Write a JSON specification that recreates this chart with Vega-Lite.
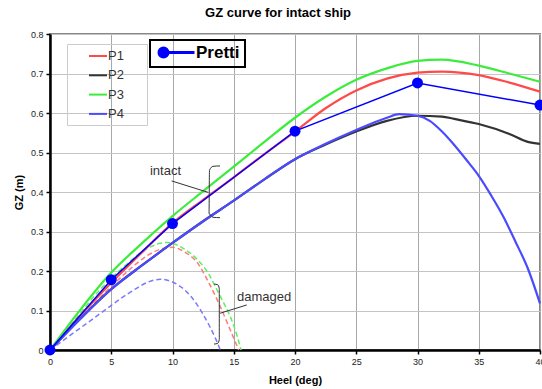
{
  "$schema": "https://vega.github.io/schema/vega-lite/v6.json",
  "width": 490,
  "height": 316,
  "autosize": {"type": "none"},
  "padding": {"left": 50, "top": 34, "right": 2, "bottom": 39},
  "background": "white",
  "title": {"text": "GZ curve for intact ship", "fontSize": 13, "fontWeight": "bold", "font": "Liberation Sans", "color": "#000000", "dx": -17, "offset": 10},
  "config": {
    "font": "Liberation Sans",
    "view": {"stroke": "#888888", "strokeWidth": 2},
    "axis": {
      "domainColor": "#000000", "domainWidth": 2.5,
      "tickColor": "#000000", "tickSize": 4, "tickWidth": 1.5,
      "labelFontSize": 9, "labelColor": "#222222", "labelPadding": 3,
      "labelFlush": false, "labelOverlap": false, "labelBound": false,
      "titleFontSize": 11, "titleFontWeight": "bold", "titleColor": "#000000",
      "grid": true, "gridWidth": 1
    }
  },
  "datasets": {
    "intact": [
      {"series": "P1", "heel": 0, "gz": 0}, {"series": "P1", "heel": 2.5, "gz": 0.088}, {"series": "P1", "heel": 5, "gz": 0.17}, {"series": "P1", "heel": 7.5, "gz": 0.247}, {"series": "P1", "heel": 10, "gz": 0.321}, {"series": "P1", "heel": 12.5, "gz": 0.38}, {"series": "P1", "heel": 15, "gz": 0.437}, {"series": "P1", "heel": 17.5, "gz": 0.496}, {"series": "P1", "heel": 20, "gz": 0.553}, {"series": "P1", "heel": 22.5, "gz": 0.612}, {"series": "P1", "heel": 25, "gz": 0.657}, {"series": "P1", "heel": 27.5, "gz": 0.687}, {"series": "P1", "heel": 30, "gz": 0.702}, {"series": "P1", "heel": 32, "gz": 0.705}, {"series": "P1", "heel": 35, "gz": 0.696}, {"series": "P1", "heel": 37.5, "gz": 0.677}, {"series": "P1", "heel": 40, "gz": 0.654},
      {"series": "P2", "heel": 0, "gz": 0}, {"series": "P2", "heel": 2.5, "gz": 0.08}, {"series": "P2", "heel": 5, "gz": 0.154}, {"series": "P2", "heel": 7.5, "gz": 0.214}, {"series": "P2", "heel": 10, "gz": 0.271}, {"series": "P2", "heel": 12.5, "gz": 0.326}, {"series": "P2", "heel": 15, "gz": 0.378}, {"series": "P2", "heel": 17.5, "gz": 0.432}, {"series": "P2", "heel": 20, "gz": 0.483}, {"series": "P2", "heel": 22.5, "gz": 0.52}, {"series": "P2", "heel": 25, "gz": 0.553}, {"series": "P2", "heel": 27.5, "gz": 0.58}, {"series": "P2", "heel": 30, "gz": 0.593}, {"series": "P2", "heel": 32, "gz": 0.591}, {"series": "P2", "heel": 33, "gz": 0.585}, {"series": "P2", "heel": 35, "gz": 0.572}, {"series": "P2", "heel": 37.5, "gz": 0.547}, {"series": "P2", "heel": 39, "gz": 0.527}, {"series": "P2", "heel": 40, "gz": 0.522},
      {"series": "P3", "heel": 0, "gz": 0}, {"series": "P3", "heel": 2.5, "gz": 0.103}, {"series": "P3", "heel": 5, "gz": 0.196}, {"series": "P3", "heel": 7.5, "gz": 0.27}, {"series": "P3", "heel": 10, "gz": 0.339}, {"series": "P3", "heel": 12.5, "gz": 0.402}, {"series": "P3", "heel": 15, "gz": 0.464}, {"series": "P3", "heel": 17.5, "gz": 0.527}, {"series": "P3", "heel": 20, "gz": 0.588}, {"series": "P3", "heel": 22.5, "gz": 0.641}, {"series": "P3", "heel": 25, "gz": 0.684}, {"series": "P3", "heel": 27.5, "gz": 0.713}, {"series": "P3", "heel": 30, "gz": 0.732}, {"series": "P3", "heel": 32, "gz": 0.735}, {"series": "P3", "heel": 35, "gz": 0.72}, {"series": "P3", "heel": 37.5, "gz": 0.7}, {"series": "P3", "heel": 40, "gz": 0.679},
      {"series": "P4", "heel": 0, "gz": 0}, {"series": "P4", "heel": 2.5, "gz": 0.08}, {"series": "P4", "heel": 5, "gz": 0.154}, {"series": "P4", "heel": 7.5, "gz": 0.214}, {"series": "P4", "heel": 10, "gz": 0.271}, {"series": "P4", "heel": 12.5, "gz": 0.326}, {"series": "P4", "heel": 15, "gz": 0.378}, {"series": "P4", "heel": 17.5, "gz": 0.432}, {"series": "P4", "heel": 20, "gz": 0.483}, {"series": "P4", "heel": 22.5, "gz": 0.522}, {"series": "P4", "heel": 25, "gz": 0.557}, {"series": "P4", "heel": 27.5, "gz": 0.588}, {"series": "P4", "heel": 28.5, "gz": 0.597}, {"series": "P4", "heel": 30, "gz": 0.593}, {"series": "P4", "heel": 31, "gz": 0.58}, {"series": "P4", "heel": 32, "gz": 0.553}, {"series": "P4", "heel": 33, "gz": 0.519}, {"series": "P4", "heel": 34, "gz": 0.481}, {"series": "P4", "heel": 35, "gz": 0.441}, {"series": "P4", "heel": 36, "gz": 0.392}, {"series": "P4", "heel": 37, "gz": 0.338}, {"series": "P4", "heel": 38, "gz": 0.274}, {"series": "P4", "heel": 39, "gz": 0.207}, {"series": "P4", "heel": 40, "gz": 0.118}
    ],
    "damaged": [
      {"series": "P1", "heel": 0, "gz": 0}, {"series": "P1", "heel": 2, "gz": 0.065}, {"series": "P1", "heel": 4, "gz": 0.13}, {"series": "P1", "heel": 6, "gz": 0.19}, {"series": "P1", "heel": 8, "gz": 0.24}, {"series": "P1", "heel": 9, "gz": 0.255}, {"series": "P1", "heel": 10, "gz": 0.26}, {"series": "P1", "heel": 11, "gz": 0.248}, {"series": "P1", "heel": 12, "gz": 0.222}, {"series": "P1", "heel": 13, "gz": 0.168}, {"series": "P1", "heel": 14, "gz": 0.103}, {"series": "P1", "heel": 14.6, "gz": 0.059}, {"series": "P1", "heel": 15, "gz": 0.03}, {"series": "P1", "heel": 15.4, "gz": 0},
      {"series": "P3", "heel": 0, "gz": 0}, {"series": "P3", "heel": 2, "gz": 0.075}, {"series": "P3", "heel": 4, "gz": 0.15}, {"series": "P3", "heel": 6, "gz": 0.21}, {"series": "P3", "heel": 8, "gz": 0.258}, {"series": "P3", "heel": 9, "gz": 0.27}, {"series": "P3", "heel": 9.5, "gz": 0.272}, {"series": "P3", "heel": 10, "gz": 0.27}, {"series": "P3", "heel": 11, "gz": 0.255}, {"series": "P3", "heel": 12, "gz": 0.23}, {"series": "P3", "heel": 13, "gz": 0.19}, {"series": "P3", "heel": 13.5, "gz": 0.16}, {"series": "P3", "heel": 14, "gz": 0.13}, {"series": "P3", "heel": 14.6, "gz": 0.093}, {"series": "P3", "heel": 15, "gz": 0.062}, {"series": "P3", "heel": 15.6, "gz": 0},
      {"series": "P4", "heel": 0, "gz": 0}, {"series": "P4", "heel": 2, "gz": 0.045}, {"series": "P4", "heel": 4, "gz": 0.09}, {"series": "P4", "heel": 6, "gz": 0.135}, {"series": "P4", "heel": 7, "gz": 0.155}, {"series": "P4", "heel": 8, "gz": 0.172}, {"series": "P4", "heel": 9, "gz": 0.179}, {"series": "P4", "heel": 10, "gz": 0.172}, {"series": "P4", "heel": 11, "gz": 0.152}, {"series": "P4", "heel": 12, "gz": 0.115}, {"series": "P4", "heel": 12.5, "gz": 0.09}, {"series": "P4", "heel": 13, "gz": 0.062}, {"series": "P4", "heel": 13.5, "gz": 0.03}, {"series": "P4", "heel": 13.9, "gz": 0}
    ],
    "pretti": [
      {"name": "Pretti", "heel": 0, "gz": 0}, {"name": "Pretti", "heel": 5, "gz": 0.178}, {"name": "Pretti", "heel": 10, "gz": 0.32}, {"name": "Pretti", "heel": 20, "gz": 0.554}, {"name": "Pretti", "heel": 30, "gz": 0.676}, {"name": "Pretti", "heel": 40, "gz": 0.62}
    ],
    "guides": [
      {"id": "intact leader", "i": 0, "heel": 9.93, "gz": 0.428}, {"id": "intact leader", "i": 1, "heel": 12.92, "gz": 0.399},
      {"id": "intact brace", "i": 0, "heel": 13.88, "gz": 0.466}, {"id": "intact brace", "i": 1, "heel": 13.3, "gz": 0.465}, {"id": "intact brace", "i": 2, "heel": 13.02, "gz": 0.455}, {"id": "intact brace", "i": 3, "heel": 12.98, "gz": 0.345}, {"id": "intact brace", "i": 4, "heel": 13.3, "gz": 0.336}, {"id": "intact brace", "i": 5, "heel": 13.88, "gz": 0.335},
      {"id": "damaged leader", "i": 0, "heel": 13.88, "gz": 0.093}, {"id": "damaged leader", "i": 1, "heel": 16.06, "gz": 0.114},
      {"id": "damaged brace", "i": 0, "heel": 13.39, "gz": 0.167}, {"id": "damaged brace", "i": 1, "heel": 13.7, "gz": 0.165}, {"id": "damaged brace", "i": 2, "heel": 13.82, "gz": 0.155}, {"id": "damaged brace", "i": 3, "heel": 13.82, "gz": 0.027}, {"id": "damaged brace", "i": 4, "heel": 13.7, "gz": 0.017}, {"id": "damaged brace", "i": 5, "heel": 13.39, "gz": 0.015}
    ],
    "notes": [
      {"label": "intact", "heel": 8.16, "gz": 0.453},
      {"label": "damaged", "heel": 15.27, "gz": 0.134}
    ]
  },
  "encoding": {
    "x": {"field": "heel", "type": "quantitative", "scale": {"domain": [0, 40], "nice": false},
      "axis": {"values": [0, 5, 10, 15, 20, 25, 30, 35, 40], "title": "Heel (deg)", "titlePadding": 8, "gridColor": "#a8a8a8"}},
    "y": {"field": "gz", "type": "quantitative", "scale": {"domain": [0, 0.8], "nice": false},
      "axis": {"values": [0, 0.1, 0.2, 0.3, 0.4, 0.5, 0.6, 0.7, 0.8], "labelExpr": "datum.value == 0 ? '0' : format(datum.value, '.1f')", "title": "GZ (m)", "titlePadding": 6, "gridColor": "#c4c4c4"}}
  },
  "layer": [
    {
      "layer": [
        {
          "data": {"name": "damaged"},
          "mark": {"type": "line", "strokeWidth": 1.5, "strokeDash": [5, 3], "interpolate": "monotone"},
          "encoding": {
            "stroke": {"field": "series", "type": "nominal", "scale": {"domain": ["P1", "P3", "P4"], "range": ["#ff7a7a", "#5cf05c", "#7a7aff"]}, "legend": null}
          }
        },
        {
          "data": {"name": "intact"},
          "mark": {"type": "line", "strokeWidth": 2.2, "interpolate": "monotone"},
          "encoding": {
            "color": {"field": "series", "type": "nominal",
              "scale": {"domain": ["P1", "P2", "P3", "P4"], "range": ["#ff4a4a", "#333333", "#3cec3c", "#4a4aff"]},
              "legend": {"title": null, "orient": "none", "legendX": 17, "legendY": 10, "padding": 4,
                "strokeColor": "#cccccc", "symbolType": "M1.43,0H4M8.57,0", "symbolSize": 196, "symbolStrokeWidth": 2,
                "labelFontSize": 13, "labelColor": "#333333", "labelOffset": 21, "rowPadding": 4.3,
                "encode": {"symbols": {"update": {"fill": {"value": "transparent"}}}}}}
          }
        },
        {
          "data": {"name": "guides"},
          "mark": {"type": "line", "stroke": "#333333", "strokeWidth": 1, "interpolate": "monotone"},
          "encoding": {"detail": {"field": "id"}, "order": {"field": "i", "type": "quantitative"}}
        },
        {
          "data": {"name": "notes"},
          "mark": {"type": "text", "align": "left", "baseline": "middle", "fontSize": 13, "color": "#333333"},
          "encoding": {"text": {"field": "label"}}
        }
      ]
    },
    {
      "data": {"name": "pretti"},
      "layer": [
        {
          "mark": {"type": "line", "strokeWidth": 1.5},
          "encoding": {
            "color": {"field": "name", "type": "nominal", "scale": {"domain": ["Pretti"], "range": ["#0000ff"]},
              "legend": {"title": null, "orient": "none", "legendX": 100, "legendY": 6, "padding": 4,
                "strokeColor": "#000000", "symbolType": "M-0.5,0A0.64,0.64 0 1,1 0.78,0A0.64,0.64 0 1,1 -0.5,0ZM0.14,0H4.57M10.27,0",
                "symbolSize": 196, "labelFontSize": 17, "labelFontWeight": "bold", "labelColor": "#000000", "labelOffset": 25,
                "encode": {"legend": {"update": {"strokeWidth": {"value": 2}}},
                  "symbols": {"update": {"fill": {"value": "#0000ff"}, "stroke": {"value": "#0000ff"}, "strokeWidth": {"value": 3}}}}}}
          }
        },
        {
          "mark": {"type": "point", "filled": true, "size": 120, "opacity": 1},
          "encoding": {"color": {"field": "name", "type": "nominal"}}
        }
      ]
    }
  ],
  "resolve": {"scale": {"color": "independent"}}
}
